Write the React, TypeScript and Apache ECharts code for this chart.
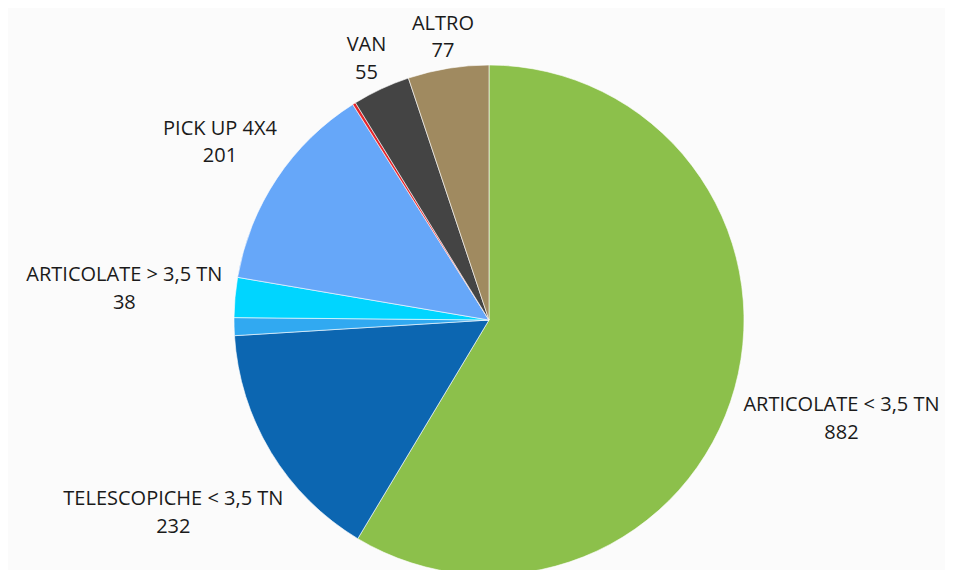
import React, { useEffect, useRef } from "react";
import * as echarts from "echarts";

const categories = [
  "ARTICOLATE < 3,5 TN",
  "TELESCOPICHE < 3,5 TN",
  "TELESCOPICHE > 3,5 TN",
  "ARTICOLATE > 3,5 TN",
  "PICK UP 4X4",
  "CINGOLATE",
  "VAN",
  "ALTRO",
];
const values = [882, 232, 17, 38, 201, 3, 55, 77];
const showLabel = [true, true, false, true, true, false, true, true];
const colors = [
  "#8CC04B",
  "#0C66B1",
  "#31A9F1",
  "#00D5FF",
  "#66A7F9",
  "#E4262B",
  "#444444",
  "#A08A60",
];

const CX = 481;
const CY = 312;
const R = 255;
const GAP = 12;

export default function App() {
  const ref = useRef<HTMLDivElement>(null);
  useEffect(() => {
    if (!ref.current) return;
    const chart = echarts.init(ref.current, null, { renderer: "svg" });
    const total = values.reduce((a, b) => a + b, 0);
    const mids: number[] = [];
    let acc = 0;
    values.forEach((v) => {
      mids.push(((acc + v / 2) / total) * Math.PI * 2);
      acc += v;
    });
    chart.setOption({
      animation: false,
      backgroundColor: "#fbfbfb",
      series: [
        {
          type: "pie",
          center: [CX, CY],
          radius: [0, R],
          startAngle: 90,
          clockwise: true,
          avoidLabelOverlap: false,
          itemStyle: { borderColor: "#ffffff", borderWidth: 0.6 },
          labelLine: { show: false },
          label: {
            show: true,
            position: "outside",
            formatter: "{b}\n{c}",
            fontFamily: "Open Sans",
            fontSize: 20,
            lineHeight: 27.5,
            color: "#1a1a1a",
            align: "center",
          },
          labelLayout: (params: any) => {
            const i = params.dataIndex;
            const a = mids[i];
            const dx = Math.sin(a);
            const dy = -Math.cos(a);
            const w = params.labelRect.width;
            const h = params.labelRect.height - 23;
            const t = R + GAP + Math.abs(dx) * (w / 2) + Math.abs(dy) * (h / 2);
            return {
              x: CX + t * dx,
              y: CY + t * dy,
              align: "center",
              verticalAlign: "middle",
            };
          },
          data: categories.map((name, i) => ({
            name,
            value: values[i],
            itemStyle: { color: colors[i] },
            label: { show: showLabel[i] },
          })),
        },
      ],
    });
    return () => chart.dispose();
  }, []);
  return <div ref={ref} style={{ width: 937, height: 562 }} />;
}
